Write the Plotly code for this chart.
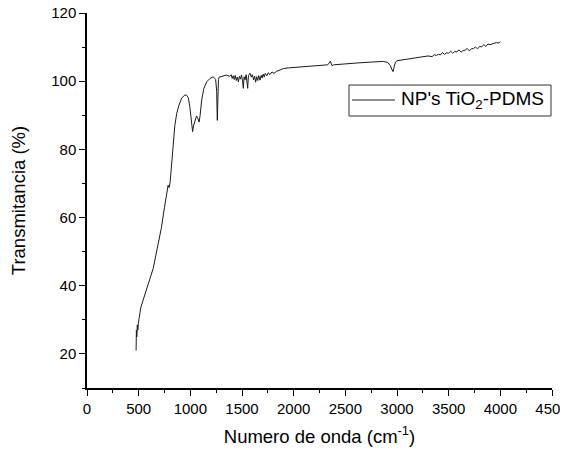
import plotly.graph_objects as go

wavenumber = [475, 478, 482, 487, 492, 497, 505, 520, 540, 570, 600, 640, 680, 720, 750, 770, 785, 795, 805, 820,
              835, 850, 868, 890, 916, 940, 960, 980, 995, 1005, 1015, 1022, 1032, 1045, 1060, 1070, 1085, 1095, 1110, 1130,
              1158, 1190, 1222, 1245, 1255, 1261, 1266, 1272, 1280, 1310, 1350, 1380, 1395, 1405, 1415, 1425, 1435, 1445, 1455, 1465,
              1475, 1485, 1495, 1505, 1513, 1520, 1530, 1540, 1550, 1555, 1562, 1577, 1590, 1600, 1612, 1622, 1632, 1642, 1652, 1662,
              1674, 1685, 1695, 1705, 1715, 1725, 1740, 1755, 1770, 1790, 1810, 1836, 1870, 1900, 1950, 2000, 2061, 2120, 2200, 2287,
              2330, 2345, 2355, 2362, 2372, 2385, 2450, 2550, 2642, 2750, 2867, 2910, 2935, 2950, 2962, 2972, 2985, 3000, 3100, 3190,
              3250, 3300, 3340, 3360, 3380, 3400, 3420, 3440, 3460, 3480, 3500, 3520, 3540, 3560, 3580, 3600, 3620, 3640, 3660, 3680,
              3700, 3720, 3740, 3760, 3780, 3800, 3820, 3840, 3860, 3880, 3900, 3930, 3960, 3980, 4000]
transmittance = [21.0, 27.0, 25.0, 28.5, 27.0, 29.0, 31.0, 33.5, 35.5, 38.5, 41.5, 45.0, 51.0, 57.0, 63.0, 67.5, 69.5, 68.8, 70.5, 76.0,
                 82.5, 87.0, 90.5, 93.0, 95.0, 95.8, 96.0, 95.2, 92.5, 89.0, 85.5, 85.2, 87.0, 88.6, 89.8, 89.3, 88.0, 90.0, 94.5, 97.8,
                 99.8, 100.8, 101.3, 100.5, 97.0, 88.5, 95.0, 100.5, 101.2, 101.5, 101.8, 101.4, 101.9, 100.8, 101.6, 100.5, 101.7, 100.2, 101.2, 99.8,
                 101.4, 100.6, 101.8, 100.1, 97.9, 101.3, 100.4, 101.9, 99.6, 97.9, 101.6, 102.3, 101.2, 101.9, 100.4, 101.5, 99.7, 101.3, 100.2, 101.6,
                 100.3, 101.7, 100.9, 102.1, 101.2, 102.3, 101.6, 102.5, 101.9, 102.7, 102.3, 102.9, 103.3, 103.7, 103.9, 104.0, 104.1, 104.2, 104.4, 104.6,
                 104.8, 105.4, 105.9, 105.3, 104.5, 104.8, 105.0, 105.2, 105.4, 105.6, 105.8, 105.5, 104.6, 103.5, 102.8, 104.2, 105.6, 106.0, 106.4, 106.8,
                 107.1, 107.4, 107.2, 107.8, 107.5, 107.9, 107.7, 108.4, 107.9, 108.3, 108.2, 108.8, 108.2, 108.7, 108.6, 109.2, 108.5, 109.0, 109.1, 109.6,
                 108.9, 109.5, 109.6, 110.0, 109.5, 110.2, 110.1, 110.7, 110.2, 110.9, 110.7, 111.0, 111.3, 111.2, 111.5]

series_name = "NP's TiO<sub>2</sub>-PDMS"
x_title = "Numero de onda (cm<sup>-1</sup>)"
y_title = "Transmitancia (%)"

line_color = "#1a1a1a"
fig = go.Figure()
fig.add_trace(go.Scatter(x=wavenumber, y=transmittance, mode="lines", name=series_name,
                         line=dict(color=line_color, width=1), showlegend=False))

font_family = "Liberation Sans, Arial, sans-serif"
axis_common = dict(showline=True, linecolor="black", linewidth=1.5, ticks="outside", ticklen=6,
                   tickwidth=1.2, tickcolor="black", showgrid=False, zeroline=False, mirror=False,
                   automargin=False, ticklabeloverflow="allow",
                   tickfont=dict(family=font_family, size=15, color="black"))

# page has an 8px body margin; plot area targeted at page x 87..552, y 13..388
fig.update_layout(
    width=568, height=452,
    margin=dict(l=79, r=24, t=5, b=72),
    paper_bgcolor="white", plot_bgcolor="white",
    font=dict(family=font_family, color="black"),
    xaxis=dict(range=[0, 4500], tick0=0, dtick=500,
               minor=dict(ticks="outside", ticklen=3, dtick=250, tickcolor="black", tickwidth=1.2),
               title=dict(text=x_title, font=dict(size=18.5), standoff=14), **axis_common),
    yaxis=dict(range=[10, 120], tick0=0, dtick=20,
               minor=dict(ticks="outside", ticklen=3, dtick=10, tickcolor="black", tickwidth=1.2),
               title=dict(text=y_title, font=dict(size=18.5), standoff=24), **axis_common),
    showlegend=False,
)

# legend box drawn in paper coordinates
W, H = 465.0, 375.0
def px(xp):
    return (xp - 87) / W
def py(yp):
    return (388 - yp) / H

fig.add_shape(type="rect", xref="paper", yref="paper", x0=px(349), x1=px(551), y0=py(116), y1=py(85),
              line=dict(color="#333333", width=1), fillcolor="white", layer="above")
fig.add_shape(type="line", xref="paper", yref="paper", x0=px(352), x1=px(395), y0=py(100), y1=py(100),
              line=dict(color=line_color, width=1), layer="above")
fig.add_annotation(xref="paper", yref="paper", x=px(399), y=py(100.5), xanchor="left", yanchor="middle",
                   text=series_name, showarrow=False, font=dict(family=font_family, size=19, color="black"))

fig.write_html("out.html")
